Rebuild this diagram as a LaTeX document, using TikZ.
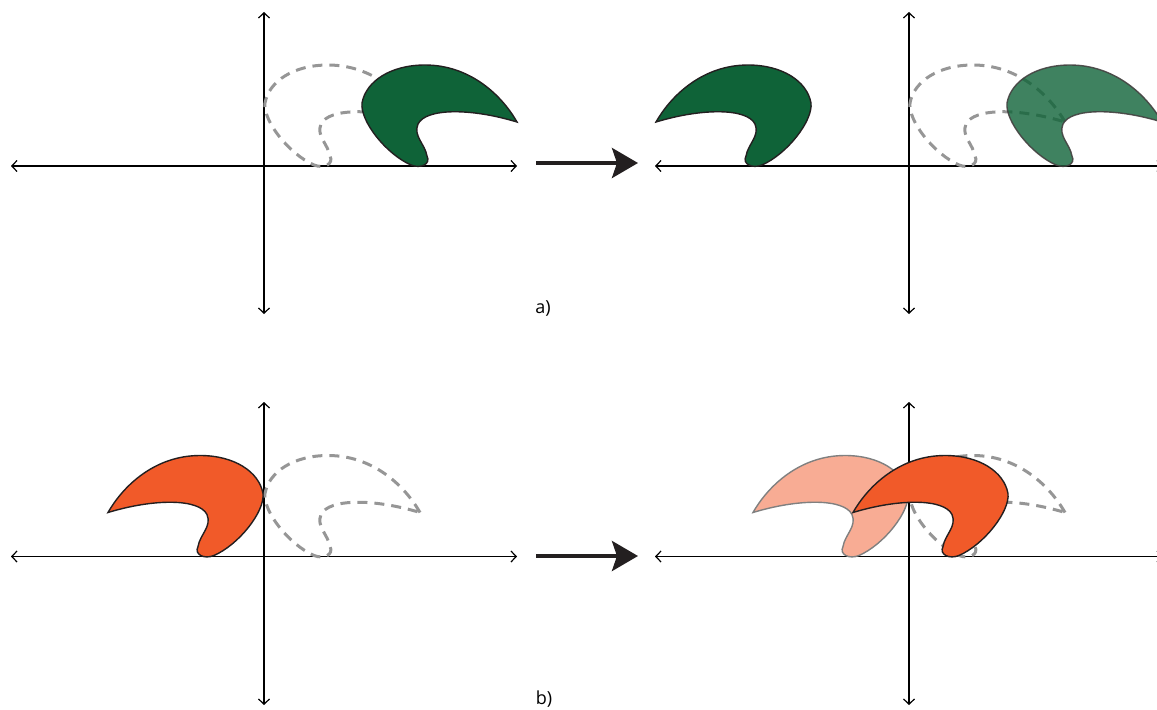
\documentclass[tikz,border=0pt]{standalone}
\usepackage{fontspec}
\newfontfamily\labfont{Open Sans}
\usetikzlibrary{arrows.meta}
\definecolor{sgreen}{RGB}{15,99,56}
\definecolor{sorange}{RGB}{241,90,41}
\definecolor{dashgray}{RGB}{150,150,150}
\definecolor{outl}{RGB}{35,31,32}
\tikzset{
  crescent/.pic={
    \path[pic actions] (-156,44) .. controls (-140,72) and (-108,101) .. (-64,101)
      .. controls (-30,101) and (-5,85) .. (-1,63)
      .. controls (1,45) and (-25,12) .. (-50,1)
      .. controls (-60,-3) and (-70,2) .. (-66,10)
      .. controls (-64,22) and (-52,30) .. (-57,42)
      .. controls (-65,58) and (-110,58) .. (-156,44) -- cycle;
  },
  axisline/.style={draw=black, line width=0.6pt, {Straight Barb[length=2.6pt,width=5.5pt]}-{Straight Barb[length=2.6pt,width=5.5pt]}},
  bigarrow/.style={draw=outl, line width=2pt, -{Stealth[length=13pt,width=15pt,inset=2.5pt]}},
  ghost/.style={draw=dashgray, line width=1.5pt, dash pattern=on 5pt off 3.5pt},
  greenshape/.style={fill=sgreen, draw=outl, line width=0.7pt},
  greenfaded/.style={fill=sgreen, fill opacity=0.8, draw=outl!85, draw opacity=0.9, line width=0.7pt},
  orangeshape/.style={fill=sorange, draw=outl, line width=0.7pt},
  orangefaded/.style={fill=sorange, fill opacity=0.5, draw=gray, line width=0.7pt},
  lab/.style={font=\labfont\fontsize{9}{11}\selectfont, inner sep=0pt}
}
\begin{document}
\begin{tikzpicture}[x=0.5pt,y=0.5pt]
\useasboundingbox (0,0) rectangle (1157,709);
\clip (0,0) rectangle (1157,709);
% axes ends
\coordinate (TLl) at (11,543); \coordinate (TLr) at (517,543);
\coordinate (TLt) at (264,697); \coordinate (TLb) at (264,395);
\coordinate (TRl) at (655,543); \coordinate (TRr) at (1163,543);
\coordinate (TRt) at (909,697); \coordinate (TRb) at (909,395);
\coordinate (BLl) at (11,152.5); \coordinate (BLr) at (517,152.5);
\coordinate (BLt) at (264,307); \coordinate (BLb) at (264,4);
\coordinate (BRl) at (655,152.5); \coordinate (BRr) at (1163,152.5);
\coordinate (BRt) at (909,307); \coordinate (BRb) at (909,4);
\draw[axisline] (TLl) -- (TLr);
\draw[axisline] (TLb) -- (TLt);
\draw[axisline] (TRl) -- (TRr);
\draw[axisline] (TRb) -- (TRt);
\draw[axisline] (BLl) -- (BLr);
\draw[axisline] (BLb) -- (BLt);
\draw[axisline] (BRl) -- (BRr);
\draw[axisline] (BRb) -- (BRt);
% transition arrows
\coordinate (A1s) at (536,546); \coordinate (A1e) at (638,546);
\coordinate (A2s) at (536,153); \coordinate (A2e) at (638,153);
\draw[bigarrow] (A1s) -- (A1e);
\draw[bigarrow] (A2s) -- (A2e);
% top-left
\pic[ghost, xscale=-1] at (264,543) {crescent};
\pic[greenshape, xscale=-1] at (361,543) {crescent};
% top-right
\pic[greenshape] at (812,543) {crescent};
\pic[ghost, xscale=-1] at (909,543) {crescent};
\pic[greenfaded, xscale=-1] at (1006,543) {crescent};
% bottom-left
\pic[ghost, xscale=-1] at (264,152.5) {crescent};
\pic[orangeshape] at (264,152.5) {crescent};
% bottom-right
\pic[orangefaded] at (909,152.5) {crescent};
\pic[ghost, xscale=-1] at (909,152.5) {crescent};
\pic[orangeshape] at (1009,152.5) {crescent};
% labels
\node[lab] (la) at (543,401) {a)};
\node[lab] (lb) at (544,10) {b)};
\end{tikzpicture}
\end{document}
